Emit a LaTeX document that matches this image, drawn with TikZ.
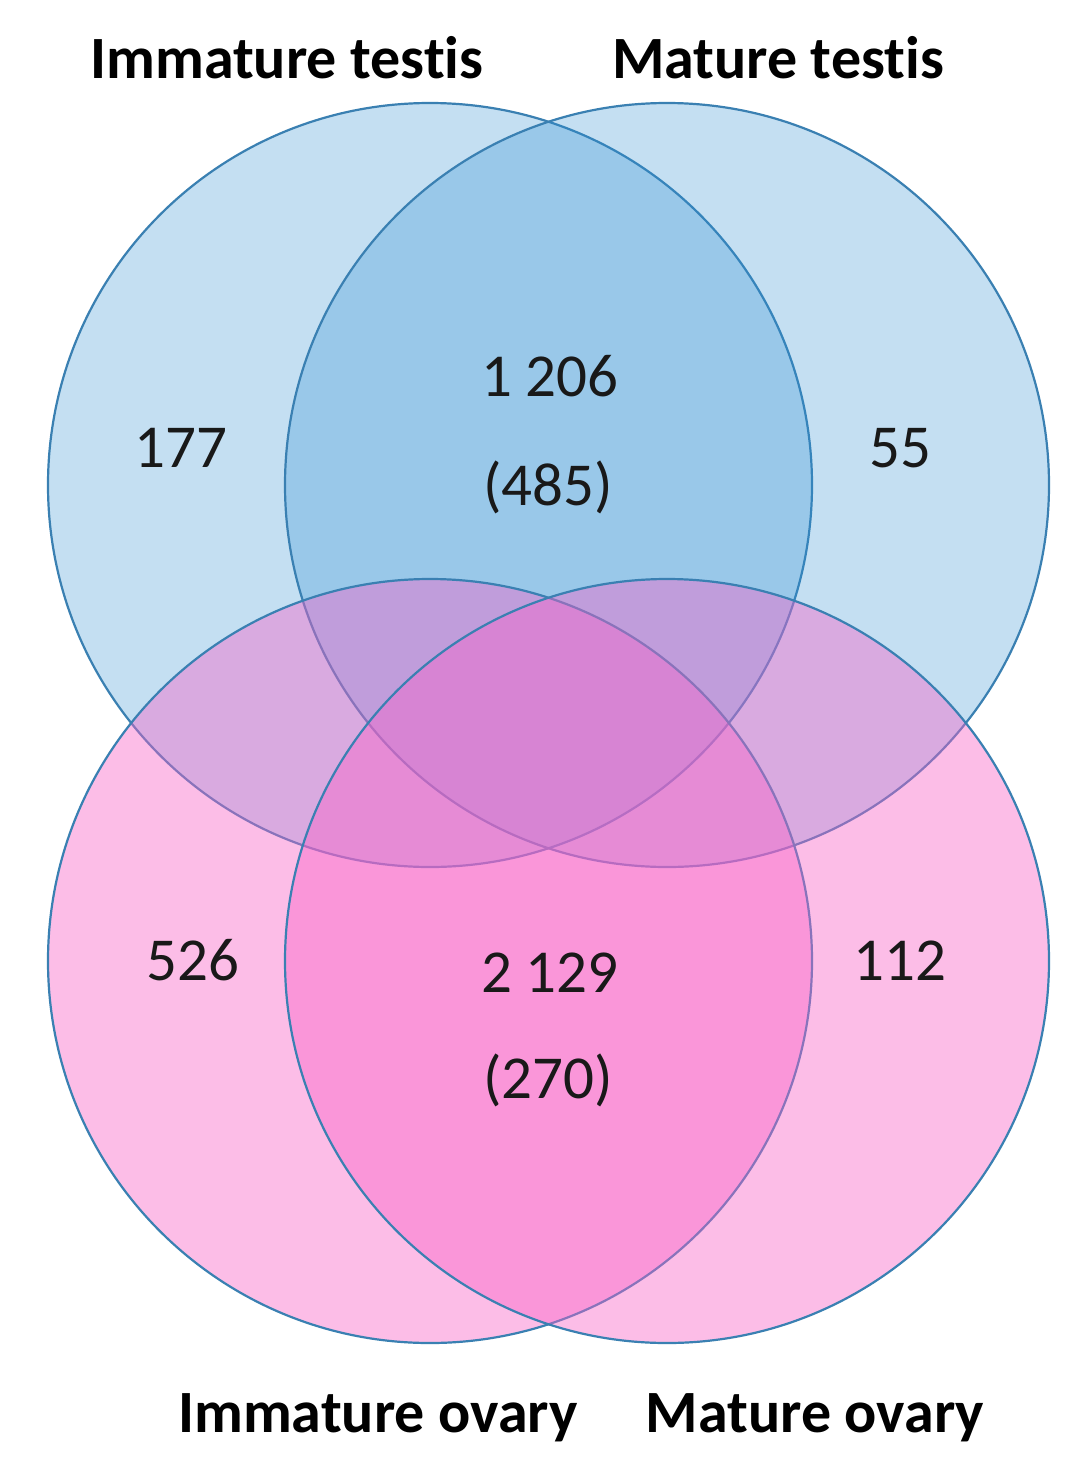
\documentclass[tikz,border=0pt]{standalone}
\usepackage{fontspec}
\setmainfont{Carlito}[Ligatures=NoCommon, RawFeature={-liga;-dlig}]
\definecolor{vblue}{RGB}{45,143,211}
\definecolor{vpink}{RGB}{248,98,200}
\definecolor{vline}{RGB}{58,128,178}
\definecolor{vtext}{RGB}{25,25,25}
\tikzset{
  venn/.style={circle, minimum size=764pt, inner sep=0pt, draw=vline, line width=2.2pt},
  bluec/.style={venn, fill=vblue, fill opacity=0.28},
  pinkc/.style={venn, fill=vpink, fill opacity=0.42},
  setlabel/.style={anchor=base, inner sep=0pt, font=\fontsize{60}{66}\selectfont\bfseries, text=black},
  count/.style={anchor=base, inner sep=0pt, font=\fontsize{61}{66}\selectfont, text=vtext}
}
\begin{document}
\begin{tikzpicture}[x=1pt, y=-1pt]
\useasboundingbox (0,0) rectangle (1089,1465);
\fill[white] (0,0) rectangle (1089,1465);
\node[bluec] (A) at (430,485) {};
\node[bluec] (B) at (667,485) {};
\node[pinkc] (C) at (430,961) {};
\node[pinkc] (D) at (667,961) {};
\node[setlabel] (lA) at (287,78) {Immature test\kern0pt{}is};
\node[setlabel] (lB) at (778,78) {Mature test\kern0pt{}is};
\node[setlabel] (lC) at (378,1432) {Immature ovary};
\node[setlabel] (lD) at (815,1432) {Mature ovary};
\node[count] (n1) at (181,467) {177};
\node[count] (n2) at (550,396) {1 206};
\node[count] (n3) at (548,505) {(485)};
\node[count] (n4) at (900,467) {55};
\node[count] (n5) at (193,980) {526};
\node[count] (n6) at (550,992) {2 129};
\node[count] (n7) at (548,1098) {(270)};
\node[count] (n8) at (900,980) {112};
\end{tikzpicture}
\end{document}
